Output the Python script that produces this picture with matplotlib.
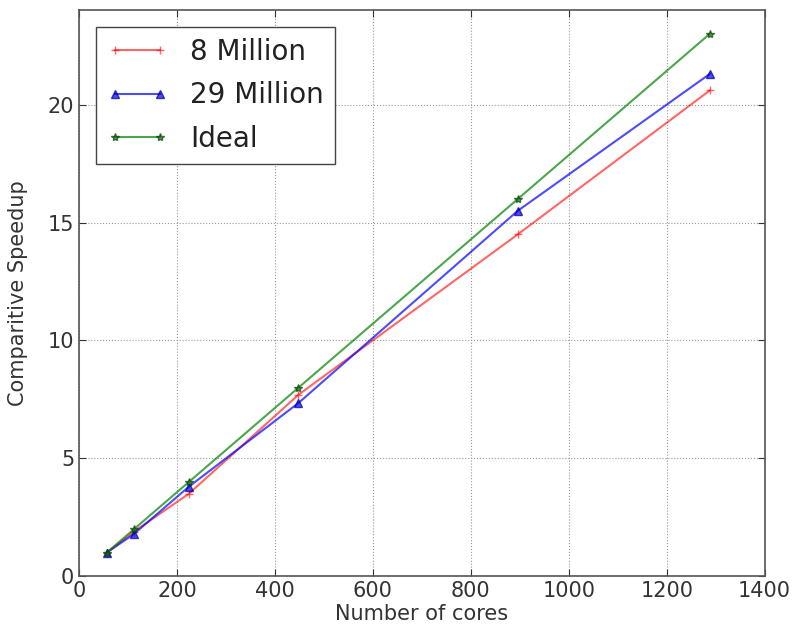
import matplotlib
matplotlib.use('Agg')
import matplotlib.pyplot as plt

# cores used and measured speedup
cores = [56, 112, 224, 448, 896, 1288]
speedup_8m = [1.0, 1.9, 3.5, 7.7, 14.5, 20.6]
speedup_29m = [1.0, 1.8, 3.8, 7.35, 15.5, 21.3]
speedup_ideal = [1, 2, 4, 8, 16, 23]

fig = plt.figure(figsize=(7.99, 6.39), dpi=100)
ax = fig.add_axes([0.099, 0.098, 0.858, 0.886])

ax.plot(cores, speedup_8m, color='r', marker='+', ms=6, alpha=0.6, label='8 Million')
ax.plot(cores, speedup_29m, color='b', marker='^', ms=6, alpha=0.7, mec='#00008b', label='29 Million')
ax.plot(cores, speedup_ideal, color='g', marker='*', ms=6, alpha=0.7, mec='#0b3d0b', label='Ideal')

ax.set_xlim(0, 1400)
ax.set_ylim(0, 24)
ax.set_xticks(range(0, 1401, 200))
ax.set_yticks(range(0, 21, 5))
ax.tick_params(direction='in', labelsize=15, length=5, top=True, right=True, colors='#333333')
ax.grid(True, linestyle=':', color='#999999')
for s in ax.spines.values():
    s.set_color('#555555')
    s.set_linewidth(1.2)

ax.set_xlabel('Number of cores', fontsize=15, color='#333333', labelpad=2)
ax.set_ylabel('Comparitive Speedup', fontsize=15, color='#333333', labelpad=14)

leg = ax.legend(loc='upper left', numpoints=2, fontsize=20, fancybox=False,
                framealpha=1, edgecolor='#444444', handlelength=2.2,
                labelspacing=0.55, borderaxespad=0.6)
for t in leg.get_texts():
    t.set_color('#222222')

fig.savefig('out.png', dpi=100)
